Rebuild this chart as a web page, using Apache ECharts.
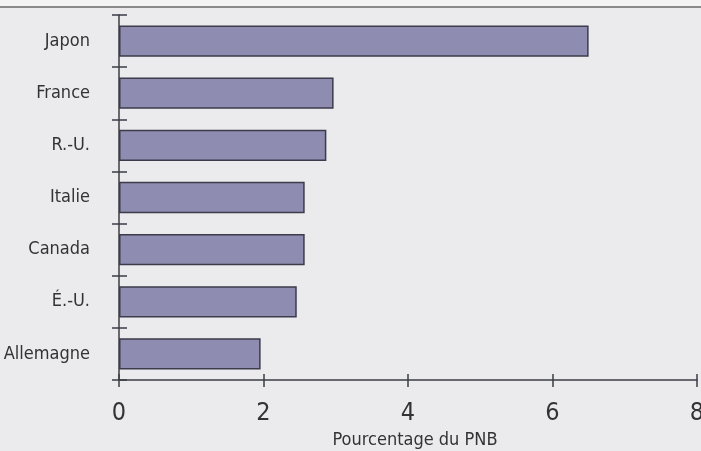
<!DOCTYPE html>
<html>
<head>
<meta charset="utf-8">
<script src="https://cdn.jsdelivr.net/npm/echarts@6/dist/echarts.min.js"></script>
<style>
html,body{margin:0;padding:0;background:#ebebee;}
#c{width:701px;height:451px;}
</style>
</head>
<body>
<div id="c"></div>
<script>
const categories = ['Japon', 'France', 'R.-U.', 'Italie', 'Canada', 'É.-U.', 'Allemagne'];
const values = [6.5, 2.97, 2.87, 2.57, 2.57, 2.46, 1.96];
const xTicks = [0, 2, 4, 6, 8];
const axisTitle = 'Pourcentage du PNB';

const FONT = '"Liberation Sans Narrow", "Arial Narrow", "DejaVu Sans Condensed", sans-serif';
const AXIS = '#3d3d45';

const chart = echarts.init(document.getElementById('c'), null, {renderer: 'canvas'});
chart.setOption({
  backgroundColor: '#ebebee',
  animation: false,
  graphic: [
    {type: 'rect', shape: {x: 0, y: 0, width: 701, height: 6}, style: {fill: '#f3f3f3'}, silent: true},
    {type: 'line', shape: {x1: 0, y1: 7, x2: 701, y2: 7}, style: {stroke: '#8a8a8a', lineWidth: 2}, silent: true}
  ],
  grid: {left: 119, right: 4, top: 15, bottom: 71, containLabel: false, outerBoundsMode: 'none'},
  xAxis: [
    {
      type: 'value', min: xTicks[0], max: xTicks[xTicks.length - 1], interval: 2, position: 'bottom',
      axisLine: {show: true, lineStyle: {color: AXIS, width: 1.5}},
      axisTick: {show: true, length: 7, lineStyle: {color: AXIS, width: 1.5}},
      axisLabel: {show: true, margin: 21, color: '#333', fontFamily: FONT, fontSize: 25},
      splitLine: {show: false},
      name: axisTitle, nameLocation: 'middle', nameGap: 48,
      nameTextStyle: {color: '#333', fontFamily: FONT, fontSize: 18, padding: [0, 0, 0, 14]}
    },
    {
      type: 'value', min: xTicks[0], max: xTicks[xTicks.length - 1], interval: 2, position: 'bottom', offset: 0,
      axisLine: {show: false},
      axisTick: {show: true, inside: true, length: 6, lineStyle: {color: AXIS, width: 1.5}},
      axisLabel: {show: false},
      splitLine: {show: false}
    }
  ],
  yAxis: [
    {
      type: 'category', data: categories, inverse: true, position: 'left',
      axisLine: {show: true, lineStyle: {color: AXIS, width: 1.5}},
      axisTick: {show: true, length: 7, lineStyle: {color: AXIS, width: 1.5}},
      axisLabel: {margin: 29, color: '#333', fontFamily: FONT, fontSize: 18}
    },
    {
      type: 'category', data: categories, inverse: true, position: 'left', offset: 0,
      axisLine: {show: false},
      axisTick: {show: true, inside: true, length: 8, lineStyle: {color: AXIS, width: 1.5}},
      axisLabel: {show: false}
    }
  ],
  series: [{
    type: 'bar',
    data: values,
    xAxisIndex: 0,
    yAxisIndex: 0,
    barCategoryGap: '40%',
    itemStyle: {color: '#8e8cb1', borderColor: '#3b3b4a', borderWidth: 1.5},
    silent: true
  }]
});
</script>
</body>
</html>
